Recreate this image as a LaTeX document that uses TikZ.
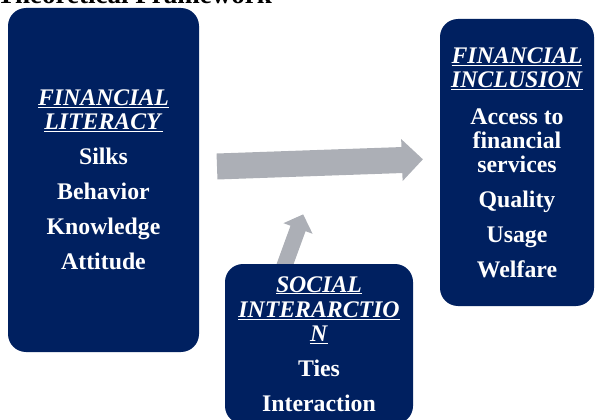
\documentclass[tikz,border=0pt]{standalone}
\usepackage{fontspec}
\setmainfont{Liberation Serif}
\definecolor{boxnavy}{RGB}{0,32,96}
\definecolor{arrowgray}{RGB}{172,175,182}
\tikzstyle{every node}=[inner sep=0pt]
\tikzstyle{factor}=[fill=boxnavy, rounded corners=18pt, text=white, align=center,
    font=\fontsize{23.8}{24}\selectfont\bfseries]
\tikzstyle{flow}=[fill=arrowgray]
\newcommand{\heading}[1]{\underline{\textit{#1}}}
% block arrow: tail, angle, length, half shaft, half head, head length
\newcommand{\flowarrow}[6]{%
    \fill[flow, shift={(#1)}, rotate=#2]
        (0,-#4) -- ({#3-#6},-#4) -- ({#3-#6},-#5) -- (#3,0)
        -- ({#3-#6},#5) -- ({#3-#6},#4) -- (0,#4) -- cycle;}

\begin{document}
\begin{tikzpicture}[x=1pt, y=-1pt]
            \useasboundingbox (0,0) rectangle (595,420);

            \node[anchor=base west, font=\fontsize{27}{27}\selectfont\bfseries]
                (title) at (-3,3.5) {Theoretical Framework};

            % arrows first, boxes over their tails
            \coordinate (maintail) at (217,166.5);
            \coordinate (socialtail) at (284,267);
            \flowarrow{maintail}{2}{206}{13}{21}{21}
            \flowarrow{socialtail}{70}{56}{8}{15.5}{15}

            \node[factor, minimum width=191pt, minimum height=344pt]
                (literacy) at (103.5,180)
                {\heading{FINANCIAL}\\\heading{LITERACY}\\[11pt]
                 Silks\\[11pt]Behavior\\[11pt]Knowledge\\[11pt]Attitude};
            \node[factor, minimum width=154pt, minimum height=287pt]
                (inclusion) at (517,162.5)
                {\heading{FINANCIAL}\\\heading{INCLUSION}\\[13pt]
                 Access to\\financial\\services\\[11pt]
                 Quality\\[11pt]Usage\\[11pt]Welfare};
            \node[factor, minimum width=188pt, minimum height=160pt]
                (interaction) at (319,344)
                {\heading{SOCIAL}\\[1.5pt]\heading{INTERARCTIO}\\\heading{N}\\[11pt]
                 Ties\\[11pt]Interaction};
        \end{tikzpicture}
\end{document}
